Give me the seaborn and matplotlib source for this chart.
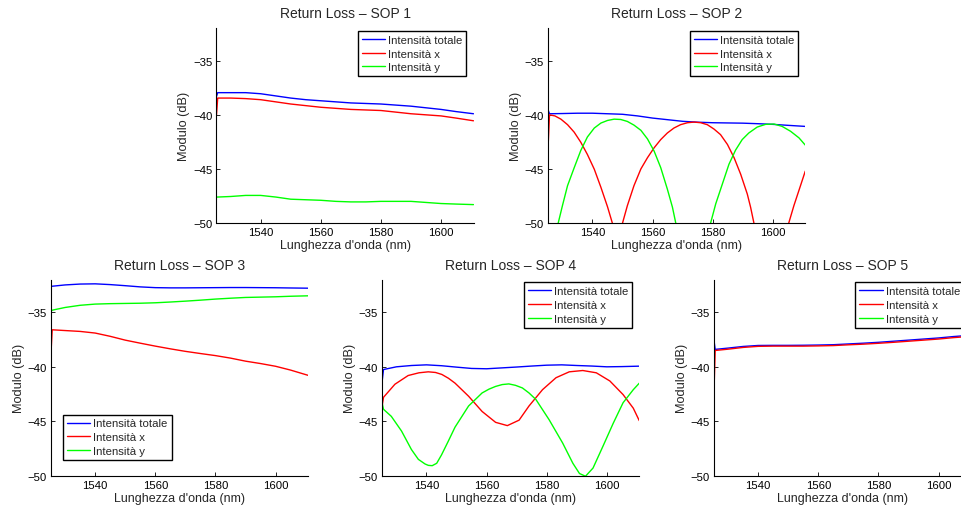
import numpy as np
import pandas as pd
import matplotlib
matplotlib.use("Agg")
import matplotlib.pyplot as plt
import seaborn as sns

# ---------------- data ----------------
series = ["Intensità totale", "Intensità x", "Intensità y"]
colors = ["#0000ff", "#ff0000", "#00ff00"]
titles = ["Return Loss – SOP 1", "Return Loss – SOP 2", "Return Loss – SOP 3",
          "Return Loss – SOP 4", "Return Loss – SOP 5"]
xticks = [1540, 1560, 1580, 1600]
yticks = [-50, -45, -40, -35]

wl_grid = [1525.3, 1525.7, 1530, 1535, 1540, 1545, 1550, 1555, 1560, 1565,
           1570, 1575, 1580, 1585, 1590, 1595, 1600, 1605, 1610.8]

# SOP 1
sop1_tot = [-38.3, -37.95, -37.95, -37.95, -38.05, -38.25, -38.45, -38.6, -38.7, -38.8,
            -38.9, -38.95, -39.0, -39.1, -39.2, -39.35, -39.5, -39.7, -39.9]
sop1_x = [-40.0, -38.45, -38.45, -38.5, -38.6, -38.8, -39.0, -39.15, -39.3, -39.4,
          -39.5, -39.55, -39.6, -39.75, -39.9, -40.0, -40.1, -40.3, -40.55]
sop1_y = [-47.6, -47.6, -47.55, -47.45, -47.45, -47.6, -47.8, -47.85, -47.9, -48.0,
          -48.05, -48.05, -48.0, -48.0, -48.0, -48.1, -48.2, -48.25, -48.3]

# SOP 2
sop2_tot = [-39.6, -39.9, -39.88, -39.85, -39.85, -39.9, -39.95, -40.1, -40.3, -40.45,
            -40.6, -40.68, -40.73, -40.75, -40.77, -40.82, -40.88, -40.97, -41.07]
sop2_x_wl = [1525.3, 1525.7, 1527.5, 1529.5, 1531.7, 1533.9, 1536.1, 1538.3, 1540.6,
             1542.8, 1545.0, 1546.6, 1548.3, 1550.0, 1551.6, 1553.8, 1556.1, 1558.3,
             1560.5, 1562.7, 1564.9, 1567.1, 1569.3, 1571.6, 1573.8, 1576.0, 1578.2,
             1580.4, 1582.6, 1584.9, 1587.1, 1589.3, 1591.5, 1592.6, 1593.7, 1599.5,
             1605.3, 1607.0, 1609.2, 1610.8]
sop2_x = [-42.5, -40.0, -40.1, -40.4, -40.91, -41.6, -42.53, -43.66, -45.03,
          -46.7, -48.5, -50.0, -58.0, -50.0, -48.4, -46.55, -45.0, -43.96,
          -43.05, -42.29, -41.68, -41.22, -40.91, -40.73, -40.67, -40.73, -40.91,
          -41.31, -41.83, -42.74, -43.96, -45.49, -47.32, -48.54, -50.0, -62.0,
          -50.0, -48.4, -46.55, -45.2]
sop2_y_wl = [1525.3, 1528.6, 1530.0, 1531.7, 1533.9, 1536.1, 1538.3, 1540.6, 1542.8,
             1545.0, 1547.2, 1549.4, 1551.6, 1553.8, 1556.1, 1558.3, 1560.5, 1562.7,
             1564.9, 1566.6, 1567.7, 1573.5, 1579.3, 1581.0, 1583.2, 1585.4, 1587.6,
             1589.8, 1592.0, 1594.8, 1597.6, 1600.4, 1603.1, 1605.9, 1608.7, 1610.8]
sop2_y = [-56.0, -50.0, -48.4, -46.55, -44.9, -43.3, -42.05, -41.22, -40.76,
          -40.52, -40.4, -40.43, -40.61, -40.95, -41.43, -42.23, -43.35, -44.88,
          -46.86, -48.54, -50.0, -62.0, -50.0, -48.23, -46.4, -44.57, -43.26,
          -42.29, -41.68, -41.13, -40.88, -40.85, -41.07, -41.52, -42.13, -42.8]

# SOP 3
sop3_tot = [-32.6, -32.6, -32.48, -32.4, -32.38, -32.45, -32.55, -32.66, -32.73, -32.75,
            -32.75, -32.74, -32.73, -32.72, -32.72, -32.73, -32.74, -32.76, -32.78]
sop3_x = [-38.7, -36.6, -36.67, -36.75, -36.9, -37.2, -37.55, -37.83, -38.1, -38.35,
          -38.58, -38.78, -38.97, -39.2, -39.48, -39.7, -39.95, -40.3, -40.78]
sop3_y = [-34.9, -34.8, -34.55, -34.35, -34.24, -34.2, -34.18, -34.16, -34.12, -34.05,
          -33.97, -33.88, -33.78, -33.7, -33.63, -33.6, -33.57, -33.52, -33.48]

# SOP 4
sop4_tot = [-41.2, -40.25, -40.0, -39.88, -39.82, -39.9, -40.03, -40.15, -40.18, -40.1,
            -40.02, -39.93, -39.85, -39.82, -39.88, -39.93, -40.0, -39.98, -39.94]
sop4_x_wl = [1525.3, 1525.7, 1529.5, 1533.9, 1537.5, 1540.6, 1543.0, 1545.1, 1547.3,
             1549.5, 1554.0, 1558.5, 1563.0, 1566.9, 1570.8, 1574.1, 1578.6, 1583.1,
             1587.5, 1592.0, 1596.5, 1601.0, 1605.4, 1608.8, 1610.8]
sop4_x = [-43.5, -42.8, -41.6, -40.8, -40.55, -40.46, -40.52, -40.7, -41.05,
          -41.5, -42.7, -44.1, -45.1, -45.4, -44.9, -43.6, -42.1, -41.0,
          -40.46, -40.34, -40.55, -41.3, -42.55, -43.8, -44.95]
sop4_y_wl = [1525.3, 1525.7, 1528.3, 1531.7, 1535.0, 1537.3, 1539.5, 1540.6, 1541.9,
             1543.4, 1545.0, 1547.2, 1549.5, 1554.0, 1558.5, 1560.8, 1563.0, 1565.2,
             1567.4, 1569.6, 1571.9, 1574.1, 1576.4, 1580.8, 1585.3, 1588.7, 1590.9,
             1592.9, 1595.4, 1598.7, 1602.1, 1605.4, 1608.8, 1610.8]
sop4_y = [-43.4, -43.9, -44.55, -45.9, -47.6, -48.5, -48.92, -49.05, -49.08,
          -48.86, -48.09, -46.86, -45.54, -43.6, -42.4, -42.05, -41.8, -41.63,
          -41.57, -41.7, -41.94, -42.4, -43.0, -44.86, -47.0, -48.86, -49.8,
          -50.05, -49.3, -47.3, -45.2, -43.3, -42.1, -41.5]

# SOP 5 (y component lies below the visible range)
sop5_tot = [-37.6, -38.4, -38.28, -38.13, -38.04, -38.03, -38.03, -38.02, -38.0, -37.97,
            -37.9, -37.83, -37.75, -37.65, -37.55, -37.45, -37.35, -37.22, -37.1]
sop5_x = [-42.2, -38.5, -38.38, -38.22, -38.12, -38.1, -38.1, -38.1, -38.08, -38.05,
          -37.98, -37.92, -37.84, -37.75, -37.65, -37.55, -37.45, -37.32, -37.2]
sop5_y = [-61.5, -61.8, -62.0, -62.1, -62.0, -61.9, -62.0, -62.2, -62.1, -62.0,
          -61.9, -61.8, -61.9, -62.0, -61.8, -61.7, -61.6, -61.5, -61.4]

panels = [
    [(wl_grid, sop1_tot), (wl_grid, sop1_x), (wl_grid, sop1_y)],
    [(wl_grid, sop2_tot), (sop2_x_wl, sop2_x), (sop2_y_wl, sop2_y)],
    [(wl_grid, sop3_tot), (wl_grid, sop3_x), (wl_grid, sop3_y)],
    [(wl_grid, sop4_tot), (sop4_x_wl, sop4_x), (sop4_y_wl, sop4_y)],
    [(wl_grid, sop5_tot), (wl_grid, sop5_x), (wl_grid, sop5_y)],
]

# ---------------- style ----------------
sns.set_style("ticks")
plt.rcParams["font.family"] = ["Liberation Sans", "DejaVu Sans"]
plt.rcParams["axes.unicode_minus"] = True

W, H = 962, 510
fig = plt.figure(figsize=(W / 100, H / 100), dpi=100)
fig.patch.set_facecolor("white")

# axes rectangles in pixels: (left, top, right, bottom)
rects_px = [
    (216.5, 29.3, 473.5, 224.0),
    (548.3, 29.3, 805.3, 224.0),
    (51.0, 280.7, 308.0, 476.7),
    (382.3, 280.7, 639.3, 476.7),
    (714.0, 280.7, 971.0, 476.7),
]

for i, (rp, data) in enumerate(zip(rects_px, panels)):
    l, t, r, b = rp
    ax = fig.add_axes([l / W, 1 - b / H, (r - l) / W, (b - t) / H])
    rows = []
    for name, (xs, ys) in zip(series, data):
        for xv, yv in zip(xs, ys):
            rows.append((xv, yv, name))
    df = pd.DataFrame(rows, columns=["wl", "db", "serie"])
    sns.lineplot(data=df, x="wl", y="db", hue="serie", hue_order=series,
                 palette=colors, estimator=None, sort=False, linewidth=1.0,
                 legend=False, ax=ax)
    ax.set_xlim(1525.3, 1610.8)
    ax.set_ylim(-50, -32)
    ax.set_xticks(xticks)
    ax.set_yticks(yticks)
    for s in ["top", "right"]:
        ax.spines[s].set_visible(False)
    for s in ["left", "bottom"]:
        ax.spines[s].set_color("black")
        ax.spines[s].set_linewidth(0.8)
    ax.tick_params(direction="in", length=3, width=0.6, labelsize=8.2, pad=3,
                   colors="black")
    ax.set_xlabel("Lunghezza d'onda (nm)", fontsize=9, labelpad=1.5)
    ax.set_ylabel("Modulo (dB)", fontsize=9.2, labelpad=2)
    ax.set_title(titles[i], fontsize=10, pad=8)
    ax.set_facecolor("white")

    axw = r - l
    axh = b - t
    if i == 2:
        loc = "lower left"
        anchor = (12 / axw, 15.7 / axh)
    else:
        loc = "upper right"
        anchor = (1 - 7 / axw, 1 - 2.5 / axh)
    leg = ax.legend(ax.get_lines()[:3], series, loc=loc, bbox_to_anchor=anchor,
                    borderaxespad=0, fontsize=8.2, frameon=True, fancybox=False,
                    shadow=False, framealpha=1, edgecolor="black",
                    handlelength=2.05, handletextpad=0.25, labelspacing=0.33,
                    borderpad=0.35)
    leg.get_frame().set_linewidth(1.0)

fig.savefig("out.png", dpi=100, facecolor="white")
